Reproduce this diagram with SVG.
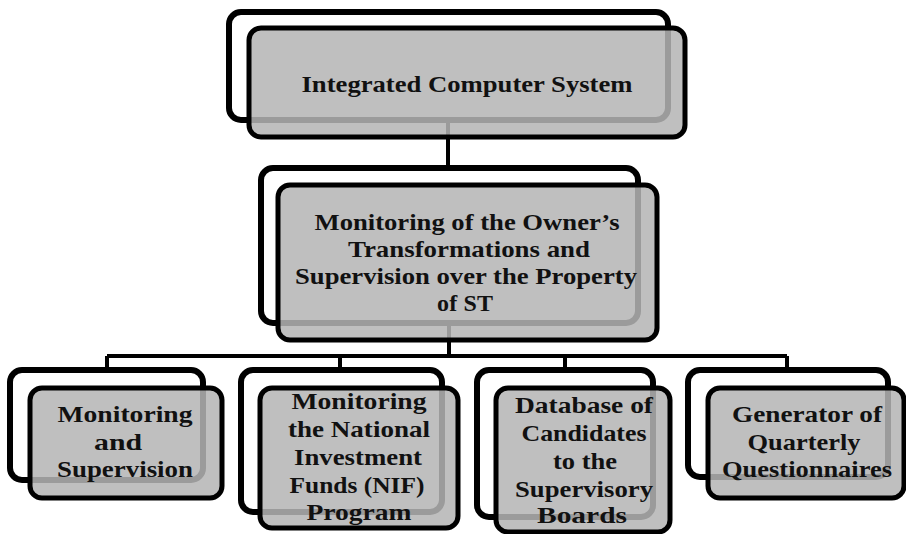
<svg xmlns="http://www.w3.org/2000/svg" width="906" height="534" viewBox="0 0 906 534">
<style>
.back{fill:#ffffff;stroke:#000;stroke-width:6}
.front{fill:#b4b4b4;fill-opacity:0.86;stroke:#000;stroke-width:5}
.conn{fill:none;stroke:#000;stroke-width:4}
text{font-family:"Liberation Serif","Times New Roman",serif;font-weight:bold;font-size:24px;fill:#111;text-anchor:middle}
</style>
<rect width="906" height="534" fill="#fff"/>
<g id="connectors">
<path class="conn" d="M448,120 V185"/>
<path class="conn" d="M449,323 V356 M107,356 H787 M107,356 V372 M340,356 V372 M565,356 V372 M787,356 V372"/>
</g>
<g id="node-top">
<rect class="back" x="229" y="12" width="439" height="108" rx="12"/>
<rect class="front" x="249" y="28" width="436" height="109" rx="12"/>
<text x="467" y="92" textLength="331" lengthAdjust="spacingAndGlyphs">Integrated Computer System</text>
</g>
<g id="node-mid">
<rect class="back" x="261" y="168" width="377" height="155" rx="12"/>
<rect class="front" x="278" y="185" width="379" height="155" rx="12"/>
<text x="467" y="230" textLength="305" lengthAdjust="spacingAndGlyphs">Monitoring of the Owner’s</text>
<text x="469" y="257" textLength="242" lengthAdjust="spacingAndGlyphs">Transformations and</text>
<text x="466" y="284" textLength="342" lengthAdjust="spacingAndGlyphs">Supervision over the Property</text>
<text x="465" y="311" textLength="56" lengthAdjust="spacing">of ST</text>
</g>
<g id="node-b1">
<rect class="back" x="10" y="370" width="193" height="110" rx="12"/>
<rect class="front" x="30" y="388" width="192" height="110" rx="12"/>
<text x="125" y="422" textLength="135" lengthAdjust="spacingAndGlyphs">Monitoring</text>
<text x="118" y="450" textLength="48" lengthAdjust="spacingAndGlyphs">and</text>
<text x="125" y="477" textLength="136" lengthAdjust="spacingAndGlyphs">Supervision</text>
</g>
<g id="node-b2">
<rect class="back" x="241" y="370" width="201" height="142" rx="12"/>
<rect class="front" x="260" y="388" width="198" height="140" rx="12"/>
<text x="359" y="409" textLength="135" lengthAdjust="spacingAndGlyphs">Monitoring</text>
<text x="359" y="437" textLength="142" lengthAdjust="spacingAndGlyphs">the National</text>
<text x="358" y="465" textLength="128" lengthAdjust="spacingAndGlyphs">Investment</text>
<text x="357" y="493" textLength="135" lengthAdjust="spacingAndGlyphs">Funds (NIF)</text>
<text x="359" y="520" textLength="105" lengthAdjust="spacingAndGlyphs">Program</text>
</g>
<g id="node-b3">
<rect class="back" x="477" y="370" width="176" height="147" rx="12"/>
<rect class="front" x="496" y="388" width="174" height="144" rx="12"/>
<text x="584" y="413" textLength="138" lengthAdjust="spacingAndGlyphs">Database of</text>
<text x="584" y="441" textLength="125" lengthAdjust="spacingAndGlyphs">Candidates</text>
<text x="585" y="469" textLength="64" lengthAdjust="spacingAndGlyphs">to the</text>
<text x="584" y="497" textLength="138" lengthAdjust="spacingAndGlyphs">Supervisory</text>
<text x="582" y="523" textLength="90" lengthAdjust="spacingAndGlyphs">Boards</text>
</g>
<g id="node-b4">
<rect class="back" x="688" y="370" width="200" height="107" rx="12"/>
<rect class="front" x="708" y="388" width="196" height="110" rx="12"/>
<text x="807" y="422" textLength="150" lengthAdjust="spacingAndGlyphs">Generator of</text>
<text x="804" y="450" textLength="113" lengthAdjust="spacingAndGlyphs">Quarterly</text>
<text x="807" y="477" textLength="170" lengthAdjust="spacingAndGlyphs">Questionnaires</text>
</g>
</svg>
